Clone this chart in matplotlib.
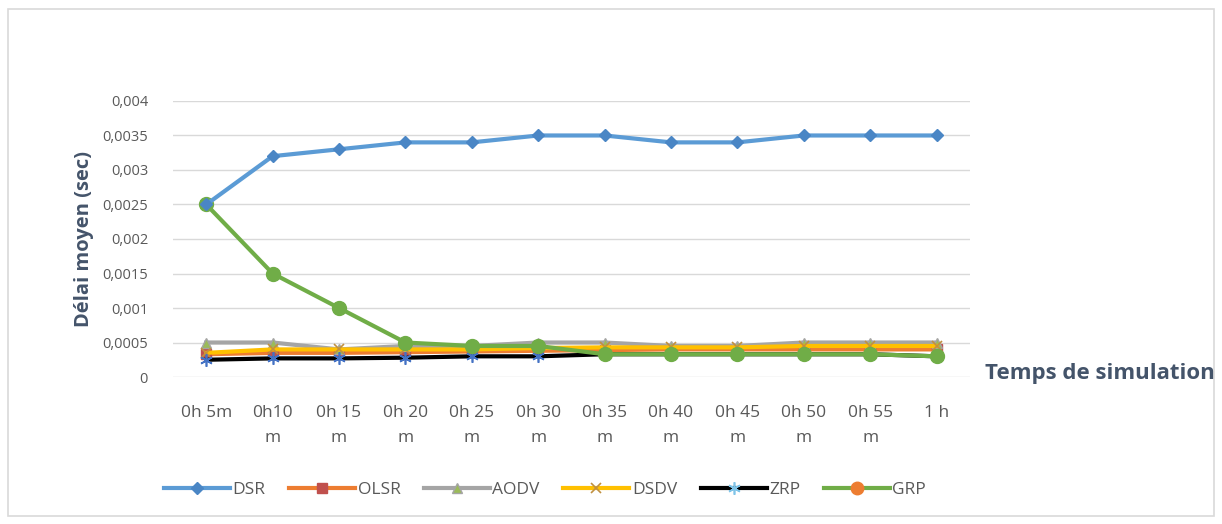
import matplotlib.pyplot as plt
from matplotlib.lines import Line2D
from matplotlib.patches import Rectangle
import numpy as np

# Simulation time steps (category axis)
time_labels = ["0h 5m", "0h10\nm", "0h 15\nm", "0h 20\nm", "0h 25\nm", "0h 30\nm",
               "0h 35\nm", "0h 40\nm", "0h 45\nm", "0h 50\nm", "0h 55\nm", "1 h"]

# Average delay (sec) per routing protocol
dsr = [0.0025, 0.0032, 0.0033, 0.0034, 0.0034, 0.0035, 0.0035, 0.0034, 0.0034, 0.0035, 0.0035, 0.0035]
olsr = [0.00033, 0.00035, 0.00035, 0.00036, 0.00037, 0.00038, 0.00039, 0.0004, 0.0004, 0.0004, 0.0004, 0.0004]
aodv = [0.0005, 0.0005, 0.0004, 0.00045, 0.00045, 0.0005, 0.0005, 0.00045, 0.00045, 0.0005, 0.0005, 0.0005]
dsdv = [0.00035, 0.0004, 0.0004, 0.0004, 0.0004, 0.00042, 0.00043, 0.00043, 0.00043, 0.00045, 0.00045, 0.00045]
zrp = [0.00025, 0.00027, 0.00027, 0.00028, 0.0003, 0.0003, 0.00033, 0.00033, 0.00033, 0.00033, 0.00033, 0.0003]
grp = [0.0025, 0.0015, 0.001, 0.0005, 0.00045, 0.00045, 0.00033, 0.00033, 0.00033, 0.00033, 0.00033, 0.0003]

y_ticks = [0, 0.0005, 0.001, 0.0015, 0.002, 0.0025, 0.003, 0.0035, 0.004]
y_tick_labels = ["0", "0,0005", "0,001", "0,0015", "0,002", "0,0025", "0,003", "0,0035", "0,004"]

tick_font = ["Liberation Sans Narrow", "Open Sans", "DejaVu Sans"]
title_color = "#44546A"
text_color = "#595959"

fig = plt.figure(figsize=(12.22, 5.24), dpi=100)
ax = fig.add_axes([0.1416, 0.2805, 0.652, 0.5268])

# Chart area border
fig.patches.append(Rectangle((8 / 1222, 1 - 516 / 524), 1206 / 1222, 507 / 524,
                             transform=fig.transFigure, fill=False,
                             edgecolor="#D9D9D9", linewidth=1.2))

x = np.arange(len(time_labels))
lw = 3

ax.plot(x, olsr, color="#ED7D31", lw=lw, marker="s", ms=7,
        mfc="#C0504D", mec="#C0504D", zorder=3)
ax.plot(x, aodv, color="#A5A5A5", lw=lw, marker="^", ms=7,
        mfc="#9BBB59", mec="#A5A5A5", zorder=3)
ax.plot(x, dsdv, color="#FFC000", lw=lw, marker="x", ms=7,
        mec="#C09040", mew=1.2, zorder=4)
ax.plot(x, zrp, color="black", lw=lw, marker=(6, 2, 0), ms=9,
        mec="#4472C4", mew=1.2, zorder=4)
ax.plot(x, grp, color="#70AD47", lw=lw, marker="o", ms=10,
        mfc="#70AD47", mec="#70AD47", zorder=5)
ax.plot(x, dsr, color="#5B9BD5", lw=lw, marker="D", ms=6.5,
        mfc="#4A86C5", mec="#4A86C5", zorder=6)

ax.set_xlim(-0.5, len(time_labels) - 0.5)
ax.set_ylim(0, 0.004)
ax.set_yticks(y_ticks)
ax.set_yticklabels(y_tick_labels, family=tick_font, fontsize=10.5, color=text_color)
ax.set_xticks(x)
ax.set_xticklabels(time_labels, family=tick_font, fontsize=12.5, color=text_color,
                   linespacing=1.75)
ax.tick_params(axis="both", length=0)
ax.tick_params(axis="y", pad=18)
ax.tick_params(axis="x", pad=20)
ax.grid(axis="y", color="#D9D9D9", lw=1)
ax.set_axisbelow(True)
for s in ax.spines.values():
    s.set_visible(False)

ax.set_ylabel("Délai moyen (sec)", fontsize=14.5, fontweight="bold",
              color=title_color, family="Open Sans", labelpad=6)
fig.text(0.806, 1 - 374 / 524, "Temps de simulation", fontsize=16,
         fontweight="bold", color=title_color, family="Open Sans",
         ha="left", va="center")

# Legend: GRP entry keeps its orange marker
handles = [
    Line2D([], [], color="#5B9BD5", lw=lw, marker="D", ms=6.5, mfc="#4A86C5", mec="#4A86C5"),
    Line2D([], [], color="#ED7D31", lw=lw, marker="s", ms=7, mfc="#C0504D", mec="#C0504D"),
    Line2D([], [], color="#A5A5A5", lw=lw, marker="^", ms=7, mfc="#9BBB59", mec="#A5A5A5"),
    Line2D([], [], color="#FFC000", lw=lw, marker="x", ms=7, mec="#C09040", mew=1.2),
    Line2D([], [], color="black", lw=lw, marker=(6, 2, 0), ms=9, mec="#7FC4E8", mew=1.2),
    Line2D([], [], color="#70AD47", lw=lw, marker="o", ms=9, mfc="#ED7D31", mec="#ED7D31"),
]
names = ["DSR", "OLSR", "AODV", "DSDV", "ZRP", "GRP"]
fig.legend(handles, names, loc="center", bbox_to_anchor=(545 / 1222, 1 - 490 / 524),
           ncol=6, frameon=False, handlelength=3.8, handletextpad=0.15,
           columnspacing=1.35, prop={"family": tick_font, "size": 12.5},
           labelcolor=text_color)

fig.savefig("out.png", dpi=100, facecolor="white")
